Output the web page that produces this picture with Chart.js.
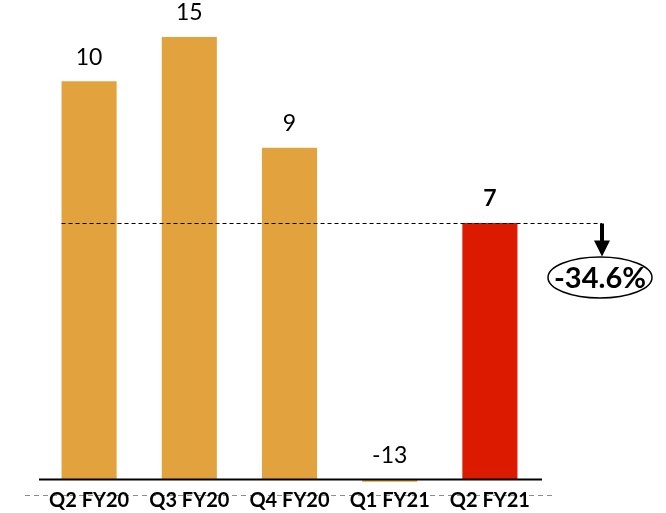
<!DOCTYPE html>
<html lang="en">

<head>
    <meta charset="UTF-8">
    <title>Quarterly bars</title>
    <script src="https://cdnjs.cloudflare.com/ajax/libs/Chart.js/4.4.1/chart.umd.min.js"></script>
    <style>
        html,
        body {
            margin: 0;
            padding: 0;
            background: white;
        }

        .wrap {
            width: 666px;
            height: 513px;
            position: relative;
        }
    </style>
</head>

<body>
    <div class="wrap">
        <canvas id="myChart"></canvas>
    </div>

    <script>
        // data
        const quarters = ['Q2 FY20', 'Q3 FY20', 'Q4 FY20', 'Q1 FY21', 'Q2 FY21'];
        const barHeights = [90, 100, 75, -0.5, 58];       // drawn heights (relative scale)
        const valueLabels = ['10', '15', '9', '-13', '7']; // numbers printed over the bars
        const barColors = ['#E2A33E', '#E2A33E', '#E2A33E', '#E2A33E', '#DC1A00'];
        const changeText = '-34.6%';

        const overlay = {
            id: 'overlay',
            beforeDraw(chart) {
                // grey dashed rule behind the category labels
                const ctx = chart.ctx;
                const area = chart.chartArea;
                const y = Math.round(chart.scales.x.top + 11) + 0.5;
                ctx.save();
                ctx.strokeStyle = '#8c8c8c';
                ctx.lineWidth = 1;
                ctx.setLineDash([5, 4]);
                ctx.beginPath();
                ctx.moveTo(area.left - 14, y);
                ctx.lineTo(area.right + 15, y);
                ctx.stroke();
                ctx.restore();
            },
            afterDatasetsDraw(chart) {
                const ctx = chart.ctx;
                const area = chart.chartArea;
                const yScale = chart.scales.y;
                const bars = chart.getDatasetMeta(0).data;

                ctx.save();
                // zero axis
                const y0 = yScale.getPixelForValue(0);
                ctx.strokeStyle = '#000';
                ctx.lineWidth = 2;
                ctx.beginPath();
                ctx.moveTo(area.left, y0);
                ctx.lineTo(area.right + 2, y0);
                ctx.stroke();

                // value labels
                ctx.fillStyle = '#000';
                ctx.textAlign = 'center';
                ctx.textBaseline = 'middle';
                bars.forEach((bar, i) => {
                    const top = Math.min(bar.y, bar.base);
                    const bold = i === bars.length - 1 ? 'bold ' : '';
                    ctx.font = bold + '23px Lato';
                    ctx.fillText(valueLabels[i], bar.x, top - 24);
                });

                // dashed line at the last quarter's level
                const last = bars[bars.length - 1];
                const yt = Math.round(last.y) + 0.5;
                const xEnd = area.right + 62;
                ctx.strokeStyle = '#000';
                ctx.lineWidth = 1;
                ctx.setLineDash([4, 3]);
                ctx.beginPath();
                ctx.moveTo(bars[0].x - bars[0].width / 2, yt);
                ctx.lineTo(xEnd, yt);
                ctx.stroke();
                ctx.setLineDash([]);

                // arrow down
                ctx.lineWidth = 4;
                ctx.beginPath();
                ctx.moveTo(xEnd, yt);
                ctx.lineTo(xEnd, yt + 18);
                ctx.stroke();
                ctx.beginPath();
                ctx.moveTo(xEnd - 8, yt + 17);
                ctx.lineTo(xEnd + 8, yt + 17);
                ctx.lineTo(xEnd, yt + 33);
                ctx.closePath();
                ctx.fill();

                // ellipse with the change
                const cx = xEnd - 2;
                const cy = yt + 54;
                ctx.lineWidth = 1.5;
                ctx.beginPath();
                ctx.ellipse(cx, cy, 52, 20.5, 0, 0, Math.PI * 2);
                ctx.fillStyle = '#fff';
                ctx.fill();
                ctx.stroke();
                ctx.fillStyle = '#000';
                ctx.font = 'bold 29px Lato';
                ctx.fillText(changeText, cx, cy + 1);
                ctx.restore();
            }
        };

        const config = {
            type: 'bar',
            data: {
                labels: quarters,
                datasets: [{
                    data: barHeights,
                    backgroundColor: barColors,
                    borderWidth: 0,
                    categoryPercentage: 1,
                    barPercentage: 0.55
                }]
            },
            options: {
                responsive: true,
                maintainAspectRatio: false,
                animation: false,
                events: [],
                layout: {
                    padding: { left: 39, right: 126, top: 37, bottom: -5 }
                },
                plugins: {
                    legend: { display: false },
                    tooltip: { enabled: false }
                },
                scales: {
                    x: {
                        grid: { display: false, drawTicks: false },
                        border: { display: false },
                        ticks: {
                            padding: 5,
                            color: '#000',
                            font: { family: 'Lato', size: 20, weight: 'bold' }
                        }
                    },
                    y: {
                        display: false,
                        min: -1,
                        max: 100
                    }
                }
            },
            plugins: [overlay]
        };

        window.myChart = new Chart(document.getElementById('myChart').getContext('2d'), config);
    </script>
</body>

</html>
